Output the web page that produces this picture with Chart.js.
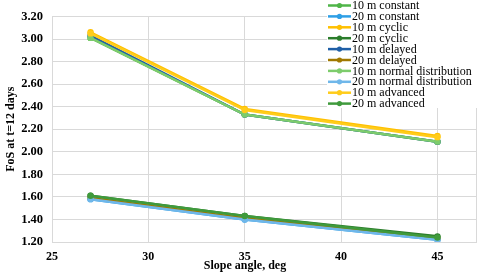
<!DOCTYPE html>
<html>
<head>
<meta charset="utf-8">
<script src="https://cdn.jsdelivr.net/npm/chart.js@4/dist/chart.umd.min.js"></script>
<style>
  html, body { margin: 0; padding: 0; background: #fff; }
  #wrap { width: 484px; height: 273px; position: relative; }
</style>
</head>
<body>
<div id="wrap"><canvas id="chart"></canvas></div>
<script>
// slope angles (deg)
const ANGLES = [27, 35, 45]
const X_TICKS = [25, 30, 35, 40, 45]
const Y_TICKS = [1.2, 1.4, 1.6, 1.8, 2.0, 2.2, 2.4, 2.6, 2.8, 3.0, 3.2]

const SERIES_NAMES = [
    "10 m constant",
    "20 m constant",
    "10 m cyclic",
    "20 m cyclic",
    "10 m delayed",
    "20 m delayed",
    "10 m normal distribution",
    "20 m normal distribution",
    "10 m advanced",
    "20 m advanced"
]

// FoS values at t=12 days
const fos10Constant = [3.01, 2.33, 2.09]
const fos20Constant = [1.58, 1.40, 1.22]
const fos10Cyclic   = [3.06, 2.38, 2.14]
const fos20Cyclic   = [1.61, 1.43, 1.25]
const fos10Delayed  = [3.03, 2.33, 2.09]
const fos20Delayed  = [1.59, 1.41, 1.23]
const fos10Normal   = [3.01, 2.33, 2.09]
const fos20Normal   = [1.58, 1.40, 1.22]
const fos10Advanced = [3.05, 2.37, 2.13]
const fos20Advanced = [1.61, 1.43, 1.24]

const SERIES_VALUES = [
    fos10Constant, fos20Constant, fos10Cyclic, fos20Cyclic, fos10Delayed,
    fos20Delayed, fos10Normal, fos20Normal, fos10Advanced, fos20Advanced
]

const COLORS = [
    "#4fb548", "#2e9fe6", "#ffc000", "#2b7d2b", "#1f5fa6",
    "#a07800", "#7dcc6c", "#6fb7ea", "#ffcc1a", "#3f9a3c"
]

const SERIF = "'Liberation Serif', 'Times New Roman', serif"

const datasets = SERIES_NAMES.map((name, i) => ({
    label: name,
    data: ANGLES.map((a, j) => ({ x: a, y: SERIES_VALUES[i][j] })),
    borderColor: COLORS[i],
    backgroundColor: COLORS[i],
    borderWidth: 2.5,
    pointRadius: 3.2,
    pointBorderWidth: 0,
    // later series on top, like the original
    order: SERIES_NAMES.length - i
}))

// draws the boxed legend in the top right corner and the x title
const customText = {
    id: "customText",
    afterDraw(chart) {
        const ctx = chart.ctx
        ctx.save()
        ctx.fillStyle = "#fff"
        ctx.fillRect(327, 0, 157, 108)
        ctx.font = "12px " + SERIF
        ctx.textBaseline = "middle"
        ctx.textAlign = "left"
        SERIES_NAMES.forEach((name, i) => {
            const y = 5.5 + i * 10.9
            ctx.strokeStyle = COLORS[i]
            ctx.lineWidth = 2.5
            ctx.beginPath()
            ctx.moveTo(328, y)
            ctx.lineTo(351, y)
            ctx.stroke()
            ctx.fillStyle = COLORS[i]
            ctx.beginPath()
            ctx.arc(339.5, y, 2.6, 0, Math.PI * 2)
            ctx.fill()
            ctx.fillStyle = "#000"
            ctx.fillText(name, 352, y + 0.5)
        })
        ctx.font = "bold 12px " + SERIF
        ctx.textAlign = "center"
        ctx.fillStyle = "#000"
        ctx.fillText("Slope angle, deg", 245, 266)
        ctx.restore()
    }
}

new Chart(document.getElementById("chart"), {
    type: "line",
    data: { datasets },
    plugins: [customText],
    options: {
        responsive: true,
        maintainAspectRatio: false,
        animation: false,
        layout: { padding: { top: 10, right: 4, left: 4, bottom: 0 } },
        plugins: {
            legend: { display: false },
            tooltip: { enabled: false }
        },
        scales: {
            x: {
                type: "linear",
                min: 25,
                max: 47,
                afterBuildTicks: (axis) => {
                    axis.ticks = X_TICKS.concat([47]).map(v => ({ value: v }))
                },
                afterFit: (axis) => { axis.height = 31 },
                grid: { color: "#d9d9d9", drawTicks: false },
                border: { color: "#d9d9d9" },
                ticks: {
                    padding: 8,
                    color: "#000",
                    font: { family: SERIF, size: 12, weight: "bold" },
                    callback: (v) => (v === 47 ? "" : v)
                }
            },
            y: {
                min: 1.2,
                max: 3.2,
                afterBuildTicks: (axis) => {
                    axis.ticks = Y_TICKS.map(v => ({ value: v }))
                },
                afterFit: (axis) => { axis.width = 48 },
                grid: { color: "#d9d9d9", drawTicks: false },
                border: { color: "#d9d9d9" },
                ticks: {
                    padding: 9,
                    color: "#000",
                    font: { family: SERIF, size: 12.5, weight: "bold" },
                    callback: (v) => Number(v).toFixed(2)
                },
                title: {
                    display: true,
                    text: "FoS at t=12 days",
                    color: "#000",
                    padding: 0,
                    font: { family: SERIF, size: 12, weight: "bold" }
                }
            }
        }
    }
})
</script>
</body>
</html>
